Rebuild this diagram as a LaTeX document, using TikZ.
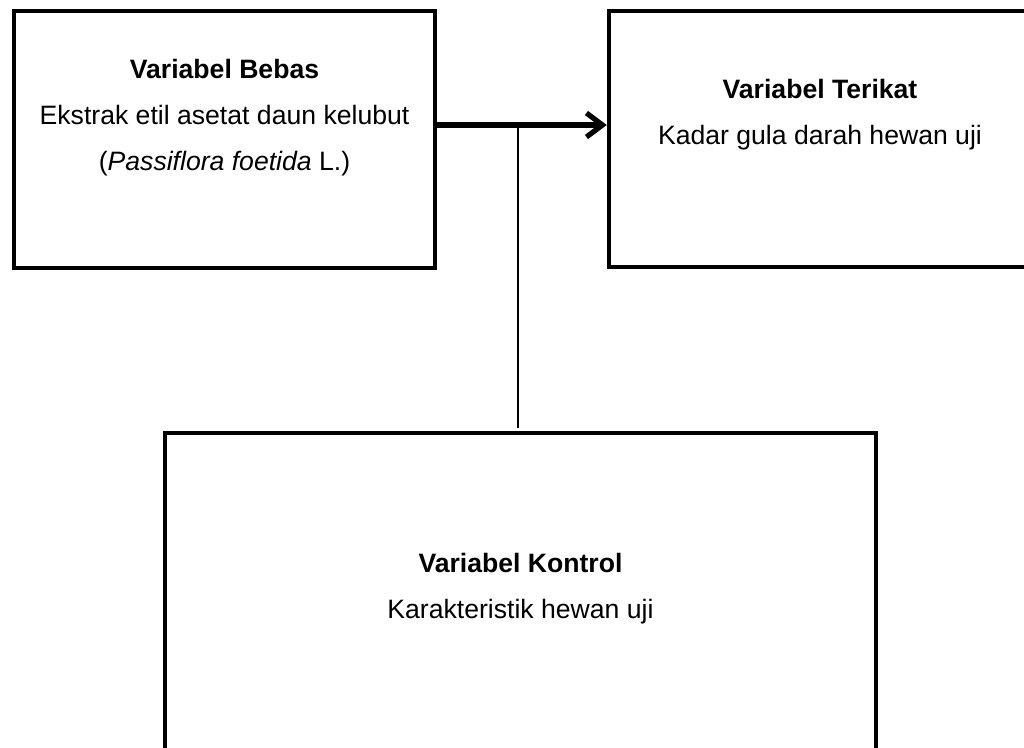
\documentclass[tikz,border=0pt]{standalone}
\usepackage{fontspec}
\setmainfont{Liberation Sans}
\usetikzlibrary{arrows.meta, positioning}

\begin{document}
\begin{tikzpicture}[
      x=0.5pt, y=-0.5pt,
      varbox/.style = {shape=rectangle, draw, line width=2.2pt, inner sep=0pt},
      vartext/.style = {align=center, inner sep=0pt,
        font=\fontsize{13.3}{23}\selectfont},
      mainlink/.style = {line width=2.6pt, -{Straight Barb[length=8pt, width=12pt]}},
      ctrllink/.style = {line width=0.9pt, shorten >=1.5pt}
    ]
      \useasboundingbox (0,0) rectangle (1024,748);
      \clip (0,0) rectangle (1024,748);
      % boxes
      \node[varbox, minimum width=210.5pt, minimum height=128.5pt] (bebas) at (224.5,139.5) {};
      \node[varbox, minimum width=211pt, minimum height=128pt] (terikat) at (820,139) {};
      \node[varbox, minimum width=355.5pt, minimum height=162.5pt] (kontrol) at (520.5,595.5) {};
      % texts
      \node[vartext, below=24.9pt of bebas.north] (bebasT)
        {\textbf{Variabel Bebas}\\Ekstrak etil asetat daun kelubut\\(\textit{Passiflora foetida} L.)};
      \node[vartext, below=34.9pt of terikat.north] (terikatT)
        {\textbf{Variabel Terikat}\\Kadar gula darah hewan uji};
      \node[vartext, below=60.9pt of kontrol.north] (kontrolT)
        {\textbf{Variabel Kontrol}\\Karakteristik hewan uji};
      % links
      \coordinate (split) at (518,125);
      \draw[ctrllink] (split) -- (split |- kontrol.north);
      \draw[mainlink] (bebas.east |- split) -- (terikat.west |- split);
    \end{tikzpicture}
\end{document}
